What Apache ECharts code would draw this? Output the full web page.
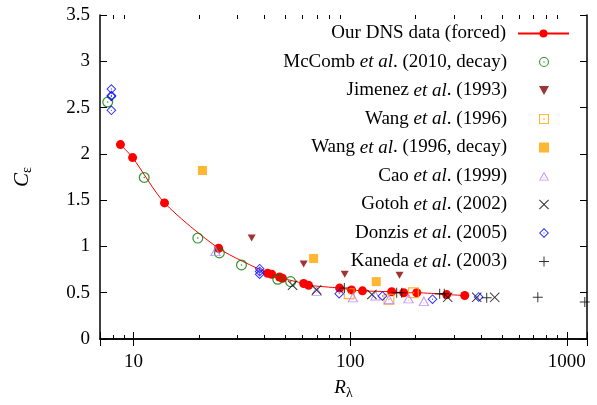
<!DOCTYPE html>
<html>
<head>
<meta charset="utf-8">
<script src="https://cdn.jsdelivr.net/npm/echarts@6/dist/echarts.min.js"></script>
<style>
html,body{margin:0;padding:0;background:#fff;}
#chart{width:597px;height:405px;}
</style>
</head>
<body>
<div id="chart"></div>
<script>
// ---- data ----
var seriesNames = [
  'Our DNS data (forced)',
  'McComb et al. (2010, decay)',
  'Jimenez et al. (1993)',
  'Wang et al. (1996)',
  'Wang et al. (1996, decay)',
  'Cao et al. (1999)',
  'Gotoh et al. (2002)',
  'Donzis et al. (2005)',
  'Kaneda et al. (2003)'
];
var dnsR = [8.7, 9.9, 13.9, 24.7, 41.6, 43.4, 47.2, 48.7, 61.0, 64.3, 89.4, 101.5, 114, 155.5, 176.7, 203, 279, 338];
var dnsC = [2.10, 1.96, 1.47, 0.98, 0.71, 0.70, 0.67, 0.655, 0.60, 0.58, 0.55, 0.53, 0.52, 0.51, 0.50, 0.50, 0.48, 0.47];
var mccR = [7.6, 11.2, 19.8, 24.9, 31.5, 46.3, 53.1];
var mccC = [2.56, 1.745, 1.09, 0.93, 0.80, 0.645, 0.62];
var jimR = [35.1, 61, 94.4, 169];
var jimC = [1.09, 0.81, 0.70, 0.69];
var wangR = [99, 151, 196];
var wangC = [0.49, 0.43, 0.50];
var wangDR = [20.8, 67.8, 132];
var wangDC = [1.82, 0.87, 0.62];
var caoR = [23.9, 70, 103, 131, 151, 186, 219];
var caoC = [0.95, 0.52, 0.45, 0.47, 0.43, 0.44, 0.41];
var gotR = [54.2, 70, 126, 282, 384, 465];
var gotC = [0.58, 0.53, 0.48, 0.45, 0.45, 0.45];
var donR = [7.9, 7.9, 7.9, 7.9, 38.2, 38.2, 38.2, 89, 141, 240, 392];
var donC = [2.70, 2.63, 2.62, 2.47, 0.76, 0.73, 0.70, 0.49, 0.465, 0.43, 0.455];
var kanR = [94, 164, 173, 259, 272, 427, 735, 1211];
var kanC = [0.55, 0.50, 0.50, 0.49, 0.49, 0.445, 0.45, 0.40];
var minorTicks = [8, 9, 20, 30, 40, 50, 60, 70, 80, 90, 200, 300, 400, 500, 600, 700, 800, 900];
var xMin = 7, xMax = 1240, yMin = 0, yMax = 3.5, yStep = 0.5;

function pairs(xs, ys) { return xs.map(function (x, i) { return [x, ys[i]]; }); }

var FONT = 'Liberation Serif';
var FS = 19;
var LFS = 19;

// symbols (fill based, with gnuplot-like centre dot)
var SYM_RING = 'path://M50,0 A50,50 0 1,1 50,100 A50,50 0 1,1 50,0 Z M50,11 A39,39 0 1,0 50,89 A39,39 0 1,0 50,11 Z M50,43 A7,7 0 1,1 50,57 A7,7 0 1,1 50,43 Z';
var SYM_SQ = 'path://M0,0 L100,0 L100,100 L0,100 Z M11,11 L11,89 L89,89 L89,11 Z M43,43 L57,43 L57,57 L43,57 Z';
var SYM_FSQ = 'path://M0,0 L100,0 L100,100 L0,100 Z';
var SYM_DIA = 'path://M50,0 L100,50 L50,100 L0,50 Z M50,14 L14,50 L50,86 L86,50 Z M50,43 L57,50 L50,57 L43,50 Z';
var SYM_TRI = 'path://M50,0 L100,90 L0,90 Z M50,20 L15,82 L85,82 Z M50,56 L56,64 L44,64 Z';
var SYM_DTRI = 'path://M0,0 L100,0 L50,90 Z';
var SYM_X = 'path://M0,7 L7,0 L50,43 L93,0 L100,7 L57,50 L100,93 L93,100 L50,57 L7,100 L0,93 L43,50 Z';
var SYM_PLUS = 'path://M45,0 L55,0 L55,45 L100,45 L100,55 L55,55 L55,100 L45,100 L45,55 L0,55 L0,45 L45,45 Z';

function sc(name, data, symbol, size, color) {
  return {
    name: name, type: 'scatter', data: data, symbol: symbol, symbolSize: size,
    itemStyle: { color: color, borderWidth: 0 }, silent: true, z: 3
  };
}

var series = [
  {
    name: seriesNames[0], type: 'line', data: pairs(dnsR, dnsC),
    symbol: 'circle', symbolSize: 9, smooth: 0.25,
    lineStyle: { color: '#ff0000', width: 1 },
    itemStyle: { color: '#ff0000' }, silent: true, z: 2
  },
  sc(seriesNames[1], pairs(mccR, mccC), SYM_RING, 11, '#007a00'),
  sc(seriesNames[2], pairs(jimR, jimC), SYM_DTRI, [8, 7], '#8b0000'),
  sc(seriesNames[3], pairs(wangR, wangC), SYM_SQ, 11, '#ffa500'),
  sc(seriesNames[4], pairs(wangDR, wangDC), SYM_FSQ, 9, '#ffa500'),
  sc(seriesNames[5], pairs(caoR, caoC), SYM_TRI, [11, 10], '#b57cff'),
  sc(seriesNames[6], pairs(gotR, gotC), SYM_X, 10, '#000000'),
  sc(seriesNames[7], pairs(donR, donC), SYM_DIA, 10, '#0000ff'),
  sc(seriesNames[8], pairs(kanR, kanC), SYM_PLUS, 10, '#000000'),
  {
    type: 'custom', silent: true, z: 5,
    data: minorTicks.map(function (v) { return [v, yMin]; }),
    encode: { x: 0, y: 1 },
    clip: false,
    renderItem: function (params, api) {
      var v = api.value(0);
      var pb = api.coord([v, yMin]);
      var pt = api.coord([v, yMax]);
      var x = Math.round(pb[0]) + 0.5;
      var len = 4;
      return {
        type: 'group',
        children: [
          { type: 'line', shape: { x1: x, y1: pb[1], x2: x, y2: pb[1] - len }, style: { stroke: '#000', lineWidth: 1 } },
          { type: 'line', shape: { x1: x, y1: pt[1], x2: x, y2: pt[1] + len }, style: { stroke: '#000', lineWidth: 1 } }
        ]
      };
    }
  }
];

function legendLabel(name) {
  return '{n|' + name.replace('et al', '}{i|et al}{n|') + '}';
}

var legends = seriesNames.map(function (name, i) {
  var isLine = i === 0;
  return {
    data: [name],
    orient: 'vertical',
    align: 'right',
    right: isLine ? 27 : 48,
    top: 24 + i * 28.5,
    padding: 0,
    itemWidth: isLine ? 51 : 10,
    itemHeight: 10,
    selectedMode: false,
    formatter: legendLabel,
    textStyle: {
      padding: [0, isLine ? 7 : 27, 0, 0],
      rich: {
        n: { fontFamily: FONT, fontSize: LFS, color: '#000', lineHeight: 20 },
        i: { fontFamily: FONT, fontSize: LFS, color: '#000', fontStyle: 'italic', lineHeight: 20 }
      }
    }
  };
});

var axisLineStyle = { color: '#000', width: 1.5 };

var option = {
  animation: false,
  backgroundColor: '#fff',
  grid: { left: 100, top: 15, right: 10, bottom: 59 },
  legend: legends,
  xAxis: [
    {
      type: 'log', min: xMin, max: xMax, logBase: 10,
      axisLine: { show: true, lineStyle: axisLineStyle },
      axisTick: { show: true, inside: true, length: 7, lineStyle: { color: '#000', width: 1 } },
      axisLabel: {
        show: true, margin: 14, color: '#000', fontFamily: FONT, fontSize: FS,
        formatter: function (v) {
          var l = Math.log10(v);
          return Math.abs(l - Math.round(l)) < 1e-6 ? String(Math.round(v)) : '';
        }
      },
      splitLine: { show: false },
      name: '{i|R}{s|λ}', nameLocation: 'middle', nameGap: 37,
      nameTextStyle: {
        rich: {
          i: { fontFamily: FONT, fontSize: FS, fontStyle: 'italic', color: '#000' },
          s: { fontFamily: FONT, fontSize: 14, color: '#000', padding: [10, 0, 0, 0] }
        }
      }
    },
    {
      type: 'log', min: xMin, max: xMax, logBase: 10, position: 'top',
      axisLine: { show: true, lineStyle: axisLineStyle },
      axisTick: { show: true, inside: true, length: 7, lineStyle: { color: '#000', width: 1 } },
      axisLabel: { show: false },
      splitLine: { show: false }
    }
  ],
  yAxis: [
    {
      type: 'value', min: yMin, max: yMax, interval: yStep,
      axisLine: { show: true, lineStyle: axisLineStyle },
      axisTick: { show: true, inside: true, length: 7, lineStyle: { color: '#000', width: 1 } },
      axisLabel: { show: true, margin: 10, color: '#000', fontFamily: FONT, fontSize: FS },
      splitLine: { show: false },
      name: '{i|C}{s|ε}', nameLocation: 'middle', nameGap: 66,
      nameTextStyle: {
        rich: {
          i: { fontFamily: FONT, fontSize: 21, fontStyle: 'italic', color: '#000' },
          s: { fontFamily: FONT, fontSize: 14, color: '#000', padding: [10, 0, 0, 0] }
        }
      }
    },
    {
      type: 'value', min: yMin, max: yMax, interval: yStep, position: 'right',
      axisLine: { show: true, lineStyle: axisLineStyle },
      axisTick: { show: true, inside: true, length: 7, lineStyle: { color: '#000', width: 1 } },
      axisLabel: { show: false },
      splitLine: { show: false }
    }
  ],
  series: series
};

var chart = echarts.init(document.getElementById('chart'), null, { renderer: 'canvas' });
chart.setOption(option);
</script>
</body>
</html>
